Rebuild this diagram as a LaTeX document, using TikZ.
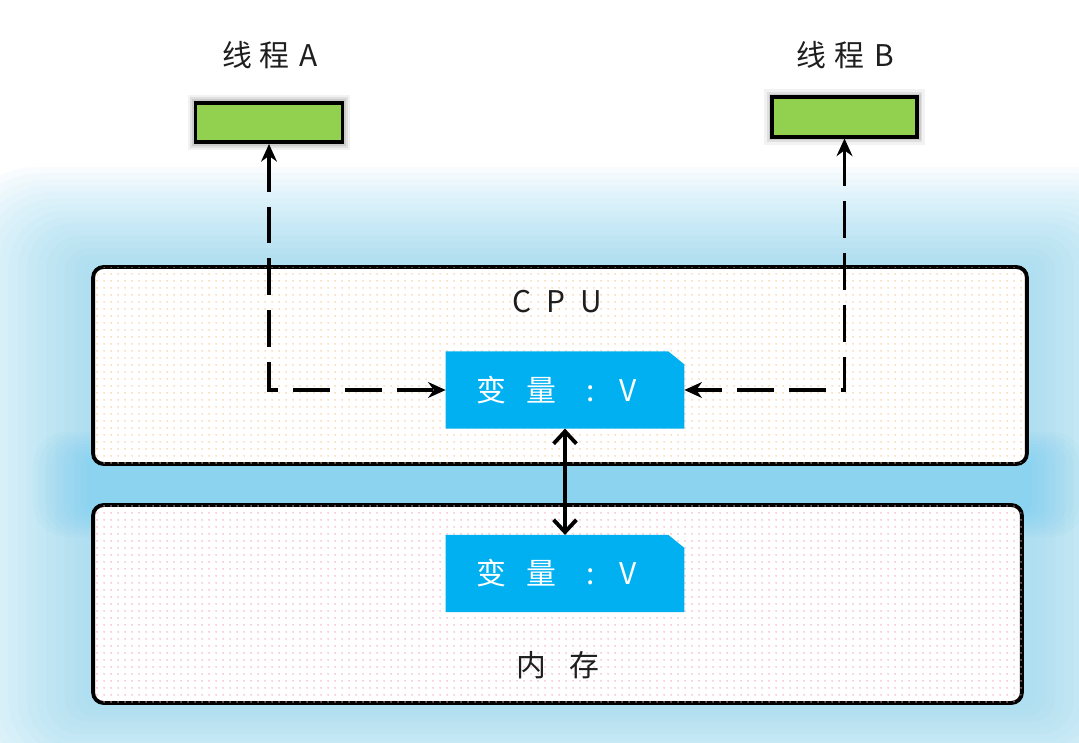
\documentclass[tikz,border=0pt]{standalone}
\usepackage{fontspec}
\setmainfont{Noto Sans CJK SC}
\usetikzlibrary{arrows.meta,patterns.meta}
\definecolor{glowblue}{RGB}{100,200,240}
\definecolor{varblue}{RGB}{0,176,240}
\definecolor{thgreen}{RGB}{146,208,80}
\definecolor{cpudot}{RGB}{245,195,140}
\definecolor{memdot}{RGB}{240,160,180}
\definecolor{txt}{RGB}{30,30,30}
\tikzset{
  areabox/.style={draw=black, line width=2.2pt, rounded corners=6pt, fill=white, inner sep=0pt},
  cpubox/.style={areabox, minimum width=18.68cm, minimum height=3.94cm,
     postaction={pattern={Dots[distance=4pt,radius=0.5pt]}, pattern color=cpudot}},
  membox/.style={areabox, minimum width=18.58cm, minimum height=3.96cm,
     postaction={pattern={Dots[distance=4pt,radius=0.5pt]}, pattern color=memdot}},
  varslot/.style={draw=none, inner sep=0pt, minimum width=4.76cm, minimum height=1.53cm},
  vartext/.style={text=white, font=\fontsize{17pt}{19pt}\selectfont, inner sep=0pt},
  thbox/.style={draw=black, line width=2pt, fill=thgreen, inner sep=0pt,
     minimum width=2.94cm, minimum height=0.79cm,
     preaction={draw=black, opacity=0.05, line width=9pt},
     preaction={draw=black, opacity=0.07, line width=6pt},
     preaction={draw=black, opacity=0.09, line width=4pt}},
  label/.style={text=txt, font=\fontsize{17pt}{19pt}\selectfont, inner sep=0pt},
  dasharrow/.style={line width=2.2pt, dash pattern=on 21pt off 8.5pt,
     {Stealth[length=10pt,width=9pt]}-{Stealth[length=10pt,width=9pt]}},
  solidarrow/.style={line width=2.2pt,
     {Straight Barb[length=7pt,width=13pt,line width=2.2pt]}-{Straight Barb[length=7pt,width=13pt,line width=2.2pt]}}
}
\begin{document}
\begin{tikzpicture}[x=0.02cm,y=-0.02cm]
\useasboundingbox (0,0) rectangle (1079,743);
\clip (0,0) rectangle (1079,743);
\fill[white] (0,0) rectangle (1079,743);
% glow behind the two areas
\foreach \i in {0,...,15}{
  \pgfmathsetmacro\ex{150*(1-\i/16)}
  \pgfmathsetmacro\ey{100*(1-\i/16)}
  \pgfmathsetmacro\r{(\ey*0.9+6)*0.567}
  \fill[glowblue, opacity=0.04, rounded corners=\r pt] (93-\ex,267-\ey) rectangle (1027+\ex,703+\ey);
}
\foreach \i in {0,...,9}{
  \pgfmathsetmacro\e{30*(1-\i/10)}
  \pgfmathsetmacro\r{(\e+4)*0.567}
  \fill[glowblue, opacity=0.05, rounded corners=\r pt] (93-2*\e,462-\e) rectangle (1025+2*\e,507+\e);
}
% areas
\node[cpubox] (cpu) at (560,365.5) {};
\node[membox] (mem) at (557.5,604) {};
\node[label] (cpulabel) at (557,302) {C\hspace{0.3cm}P\hspace{0.3cm}U};
\node[label] (memlabel) at (558,665) {内\hspace{0.45cm}存};
% variables (chamfered top-right corner)
\node[varslot] (v1) at (565,390) {};
\fill[varblue] (v1.south west) |- ([xshift=-0.32cm]v1.north east) -- ([yshift=-0.26cm]v1.north east) -- (v1.south east) -- cycle;
\node[vartext] (v1t) at ([xshift=-0.16cm]v1.center) {变\hspace{0.4cm}量\hspace{0.6cm}:\hspace{0.5cm}V};
\node[varslot] (v2) at (565,573.5) {};
\fill[varblue] (v2.south west) |- ([xshift=-0.32cm]v2.north east) -- ([yshift=-0.26cm]v2.north east) -- (v2.south east) -- cycle;
\node[vartext] (v2t) at ([xshift=-0.16cm]v2.center) {变\hspace{0.4cm}量\hspace{0.6cm}:\hspace{0.5cm}V};
% threads
\node[label] (la) at (270,55) {线\hspace{0.16cm}程\hspace{0.2cm}A};
\node[label] (lb) at (845,55) {线\hspace{0.16cm}程\hspace{0.2cm}B};
\node[thbox] (ga) at (269,122.5) {};
\node[thbox, minimum width=2.9cm] (gb) at (844.5,117) {};
% connectors
\draw[dasharrow] (ga.south) |- (v1.west);
\draw[dasharrow] (gb.south) |- (v1.east);
\draw[solidarrow] (v1.south) -- (v2.north);
\end{tikzpicture}
\end{document}
